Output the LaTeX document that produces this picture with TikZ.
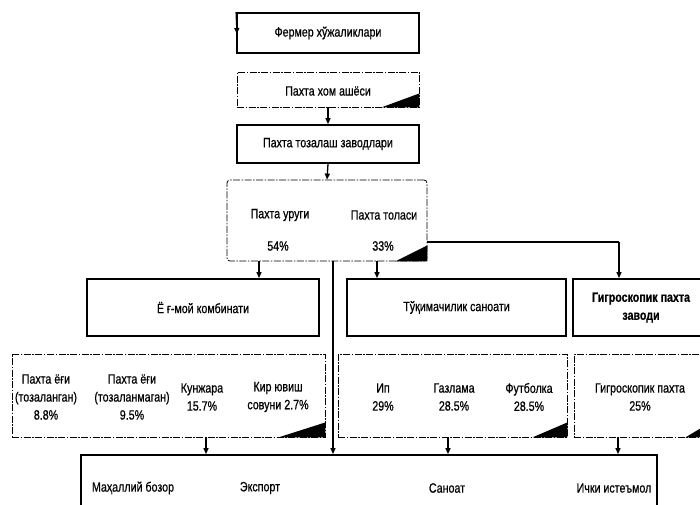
\documentclass[tikz,border=0pt]{standalone}
\usepackage{fontspec}
\setmainfont[FakeStretch=0.79,FakeBold=0.6]{Liberation Sans}
\usetikzlibrary{arrows.meta,calc}
\begin{document}
\begin{tikzpicture}[x=1pt,y=-1pt,
  every node/.style={font=\fontsize{13.5}{18}\selectfont, align=center, inner sep=0pt},
  thickbox/.style={draw, line width=1.8pt},
  ddbox/.style={draw, line width=0.8pt, dash pattern=on 7pt off 1.5pt on 1.5pt off 1.5pt},
  arr/.style={line width=1.3pt, -{Triangle[length=6pt,width=5pt]}},
  plain/.style={line width=1.8pt}
]
\useasboundingbox (0,0) rectangle (700,504);
\clip (0,0) rectangle (700,504);
\fill[white] (0,0) rectangle (700,504);

% top chain
\node[thickbox, minimum width=182, minimum height=40] (fer) at (328,33) {Фермер хўжаликлари};
\node[ddbox, minimum width=182, minimum height=35] (xom) at (328,89.5) {};
\node (xomt) at (328,91) {Пахта хом ашёси};
\fill ($(xom.south east)$) -- ++(-38,0) -- ++(38,-14) -- cycle;
\node[thickbox, minimum width=182, minimum height=38] (toz) at (328,144) {Пахта тозалаш заводлари};

\node[ddbox, rounded corners=3pt, minimum width=200, minimum height=81] (uru) at (327,220.5) {};
\fill ($(uru.south east)$) -- ++(-32,0) -- ++(32,-16) -- cycle;
\node (t1) at (280,215) {Пахта уруги};
\node (t2) at (278,246) {54\%};
\node (t3) at (384,215) {Пахта толаси};
\node (t4) at (383,246) {33\%};

% middle row
\node[thickbox, minimum width=232, minimum height=57] (yog) at (203,307.5) {Ё ғ-мой комбинати};
\node[thickbox, minimum width=219, minimum height=57] (tuq) at (456.5,307.5) {Тўқимачилик саноати};
\node[thickbox, minimum width=136, minimum height=57] (gig) at (641,307.5) {\bfseries Гигроскопик пахта\\\bfseries заводи};

% lower row
\node[ddbox, minimum width=313, minimum height=83] (lb) at (168.5,395.5) {};
\fill ($(lb.south east)$) -- ++(-47,0) -- ++(47,-15) -- cycle;
\node (l1) at (46,397) {Пахта ёғи\\(тозаланган)\\8.8\%};
\node (l2) at (132,397) {Пахта ёғи\\(тозаланмаган)\\9.5\%};
\node (l3) at (202,397) {Кунжара\\15.7\%};
\node (l4) at (278,397) {Кир ювиш\\совуни 2.7\%};

\node[ddbox, minimum width=229, minimum height=83] (mb) at (452.5,395.5) {};
\fill ($(mb.south east)$) -- ++(-35,0) -- ++(35,-15) -- cycle;
\node (m1) at (383,397) {Ип\\29\%};
\node (m2) at (454,397) {Газлама\\28.5\%};
\node (m3) at (529,397) {Футболка\\28.5\%};

\node[ddbox, minimum width=136, minimum height=83] (rb) at (642,395.5) {};
\fill ($(rb.south east)$) -- ++(-25,0) -- ++(25,-15) -- cycle;
\node (r1) at (640,397) {Гигроскопик пахта\\25\%};

% bottom box
\node[thickbox, minimum width=576, minimum height=75] (bot) at (369,492.5) {};
\node (b1) at (133,488) {Маҳаллий бозор};
\node (b2) at (260,488) {Экспорт};
\node (b3) at (447,488) {Саноат};
\node (b4) at (614,488) {Ички истеъмол};

% connectors
\coordinate (fa) at (237,34);
\draw[arr] (fer.north west) -- (fa);
\draw[arr] (xom.south) -- (toz.north);
\draw[arr] (toz.south) -- (uru.north);
\coordinate (c259) at (259,0);
\coordinate (c377) at (377,0);
\coordinate (c333) at (333,0);
\coordinate (c619) at (619,242);
\draw[arr] (uru.south -| c259) -- (yog.north -| c259);
\draw[arr] (uru.south -| c377) -- (tuq.north -| c377);
\draw[arr] (uru.south -| c333) -- (bot.north -| c333);
\draw[plain] (uru.east |- c619) -- (c619);
\draw[arr] (c619) -- (gig.north -| c619);
\coordinate (c206) at (206,0);
\coordinate (c448) at (448,0);
\coordinate (c618) at (618,0);
\draw[arr] (lb.south -| c206) -- (bot.north -| c206);
\draw[arr] (mb.south -| c448) -- (bot.north -| c448);
\draw[arr] (rb.south -| c618) -- (bot.north -| c618);
\end{tikzpicture}
\end{document}
